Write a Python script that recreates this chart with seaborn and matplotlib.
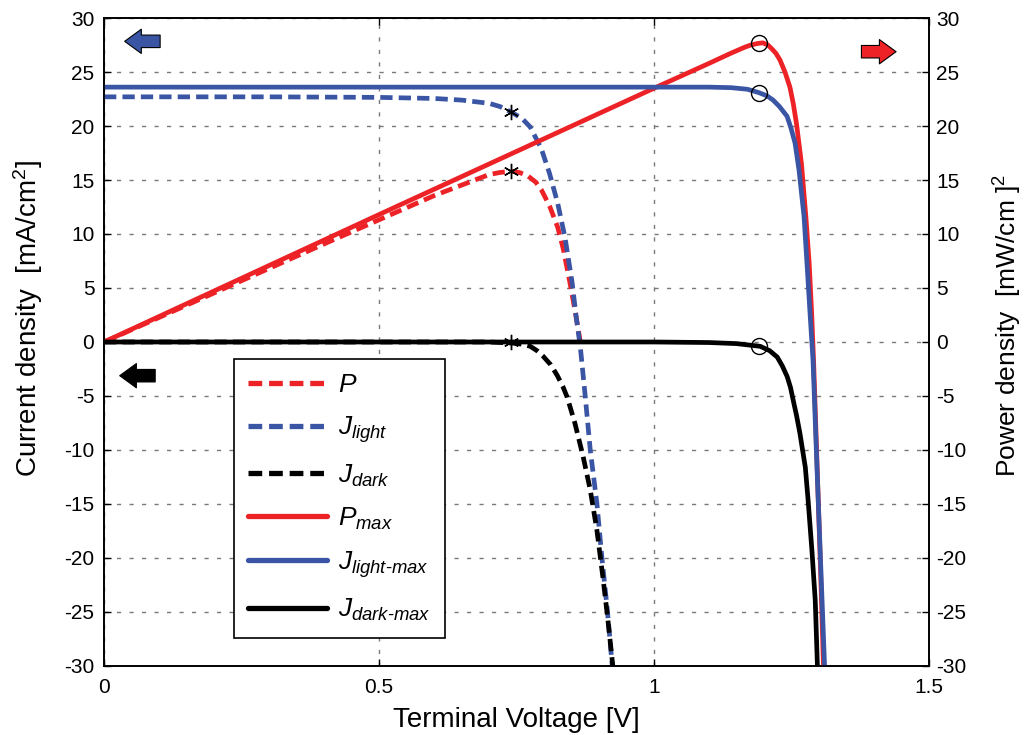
import matplotlib
matplotlib.use("Agg")
import matplotlib.pyplot as plt
from matplotlib.lines import Line2D
import seaborn as sns

# ---- curve samples (V in volts, densities in mA/cm^2 or mW/cm^2) ----
v_p = [0, 0.2, 0.4, 0.6, 0.70, 0.72, 0.74, 0.755, 0.77, 0.785, 0.795, 0.81, 0.825,
       0.835, 0.847, 0.857, 0.866]
p_vals = [0, 4.54, 9.08, 13.55, 15.5, 15.7, 15.8, 15.7, 15.4, 14.8, 14.1, 12.6, 10.6,
          8.6, 5.5, 2.7, 0]

v_light = [0, 0.3, 0.5, 0.6, 0.65, 0.70, 0.72, 0.74, 0.76, 0.775, 0.795, 0.81, 0.825,
           0.838, 0.851, 0.858, 0.866, 0.875, 0.884, 0.896, 0.905, 0.915, 0.924]
j_light = [22.7, 22.7, 22.65, 22.55, 22.4, 22.1, 21.8, 21.3, 20.7, 19.9, 17.9, 15.6,
           12.8, 9.7, 5.5, 2.5, -0.5, -5.1, -10.0, -14.9, -19.9, -24.8, -30]

v_dark = [0, 0.5, 0.70, 0.742, 0.76, 0.775, 0.787, 0.798, 0.812, 0.824, 0.834, 0.842,
          0.856, 0.871, 0.884, 0.896, 0.907, 0.916, 0.925]
j_dark = [0, 0, 0, -0.1, -0.2, -0.4, -0.8, -1.3, -2.1, -3.1, -4.1, -5.1, -7.5,
          -10.6, -13.7, -17.4, -21.8, -25.7, -30]

v_pmax = [0, 0.5, 1.0, 1.1, 1.138, 1.165, 1.176, 1.189, 1.198, 1.207, 1.215, 1.222,
          1.229, 1.238, 1.247, 1.253, 1.259, 1.268, 1.276, 1.282, 1.2865, 1.29,
          1.2955, 1.302, 1.308]
p_max = [0, 11.8, 23.5, 25.8, 26.7, 27.3, 27.5, 27.65, 27.7, 27.5, 27.1, 26.7,
         26.1, 25.0, 23.6, 22.1, 20.2, 16.5, 11.6, 7.3, 2.7, -1.7,
         -10.0, -20.0, -30]

v_lmax = [0, 0.5, 1.0, 1.1, 1.14, 1.17, 1.19, 1.205, 1.2164, 1.228, 1.2418, 1.249,
          1.2564, 1.2636, 1.2727, 1.278, 1.2836, 1.289, 1.295, 1.3025, 1.310]
j_lmax = [23.6, 23.6, 23.6, 23.6, 23.55, 23.4, 23.1, 22.8, 22.4, 21.8, 20.9, 19.8,
          18.4, 15.9, 11.6, 7.3, 2.65, -1.7, -10.0, -20.0, -30]

v_dmax = [0, 1.0, 1.1, 1.15, 1.193, 1.21, 1.224, 1.233, 1.242, 1.248, 1.253, 1.259,
          1.265, 1.27, 1.275, 1.280, 1.287, 1.293, 1.297]
j_dmax = [0, 0, -0.05, -0.15, -0.4, -0.8, -1.4, -2.2, -3.2, -4.2, -5.4, -6.8,
          -8.4, -10.0, -11.6, -14.6, -19.3, -23.9, -30]

# operating points
mpp_v = [0.74, 0.74, 0.74]
mpp_y = [21.3, 15.8, 0.0]
mpp_max_v = [1.19, 1.19, 1.19]
mpp_max_y = [27.65, 23.1, -0.35]

x_ticks = [0, 0.5, 1, 1.5]
x_tick_labels = ["0", "0.5", "1", "1.5"]
y_ticks = list(range(-30, 31, 5))
y_tick_labels = [str(t) for t in y_ticks]

labels = [r"$P$", r"$J_{light}$", r"$J_{dark}$", r"$P_{max}$",
          r"$J_{light\text{-}max}$", r"$J_{dark\text{-}max}$"]

RED = "#ED2227"
BLUE = "#3B55A5"
BLACK = "#000000"

sns.set_style("white")
plt.rcParams["font.family"] = ["Liberation Sans", "DejaVu Sans"]
plt.rcParams["mathtext.fontset"] = "custom"
plt.rcParams["mathtext.it"] = "Liberation Sans:italic"
plt.rcParams["mathtext.rm"] = "Liberation Sans"
plt.rcParams["axes.unicode_minus"] = False
for key in ["text.color", "axes.labelcolor", "xtick.color", "ytick.color"]:
    plt.rcParams[key] = "black"

fig = plt.figure(figsize=(10.24, 7.35), dpi=100)
ax = fig.add_axes([0.1016, 0.0939, 0.8057, 0.8816])

dash = (0, (2.6, 1.3))
lw = 3.4
series = [
    (v_p, p_vals, RED, dash),
    (v_light, j_light, BLUE, dash),
    (v_dark, j_dark, BLACK, dash),
    (v_pmax, p_max, RED, "-"),
    (v_lmax, j_lmax, BLUE, "-"),
    (v_dmax, j_dmax, BLACK, "-"),
]
for xs, ys, c, ls in series:
    sns.lineplot(x=xs, y=ys, ax=ax, color=c, linestyle=ls, linewidth=lw,
                 sort=False, estimator=None, zorder=3)

ax.plot(mpp_v, mpp_y, linestyle="none", marker=(6, 2, 0), markersize=11,
        markeredgecolor="black", markeredgewidth=1.0, zorder=5)
ax.plot(mpp_max_v, mpp_max_y, linestyle="none", marker="o", markersize=11.5,
        markerfacecolor="none", markeredgecolor="black", markeredgewidth=1.0, zorder=5)

ax.set_xlim(0, 1.5)
ax.set_ylim(-30, 30)
ax.set_xticks(x_ticks)
ax.set_xticklabels(x_tick_labels)
ax.set_yticks(y_ticks)
ax.set_yticklabels(y_tick_labels)
ax.grid(True, color="#7a7a7a", linestyle=(0, (3, 6)), linewidth=1.0)
ax.set_axisbelow(True)
for s in ax.spines.values():
    s.set_color("black")
    s.set_linewidth(1.2)
ax.tick_params(direction="in", length=5, width=1, labelsize=15, top=True,
               bottom=True, left=True, right=False, colors="black")
ax.tick_params(axis="x", pad=9)
ax.tick_params(axis="y", pad=7)

ax.set_xlabel("Terminal Voltage [V]", fontsize=20, labelpad=7)
ax.set_ylabel(r"Current density  [mA/cm$^2$]", fontsize=20)
ax.yaxis.set_label_coords(-0.071, 0.537)

ax2 = ax.twinx()
ax2.set_ylim(-30, 30)
ax2.set_yticks(y_ticks)
ax2.set_yticklabels(y_tick_labels)
ax2.tick_params(direction="in", length=5, width=1, labelsize=15, colors="black", pad=5)
ax2.set_ylabel(r"Power density  [mW/cm ]$^2$", fontsize=19)
ax2.yaxis.set_label_coords(1.076, 0.526)
ax2.grid(False)
for s in ax2.spines.values():
    s.set_color("black")
    s.set_linewidth(1.2)

# axis-side arrows
def side_arrow(tip, tail, face):
    ax.annotate("", xy=tip, xytext=tail, xycoords="axes fraction",
                textcoords="axes fraction", zorder=6,
                arrowprops=dict(arrowstyle="simple,head_length=1.2,head_width=1.75,tail_width=0.9",
                                mutation_scale=10, fc=face, ec="black", lw=0.8,
                                shrinkA=0, shrinkB=0))

side_arrow((0.025, 0.964), (0.068, 0.964), BLUE)
side_arrow((0.019, 0.448), (0.062, 0.448), BLACK)
side_arrow((0.960, 0.948), (0.918, 0.948), RED)

handles = []
for _, _, c, ls in series:
    handles.append(Line2D([], [], color=c, linestyle=ls, linewidth=3.8))
leg = ax.legend(handles, labels, loc="upper left", bbox_to_anchor=(0.157, 0.474),
                frameon=True, fancybox=False, framealpha=1, edgecolor="black",
                fontsize=19, handlelength=3.0, handletextpad=0.4,
                labelspacing=0.65, borderpad=0.55, borderaxespad=0)
leg.get_frame().set_linewidth(1.2)
leg.set_zorder(7)

fig.savefig("out.png", dpi=100)
